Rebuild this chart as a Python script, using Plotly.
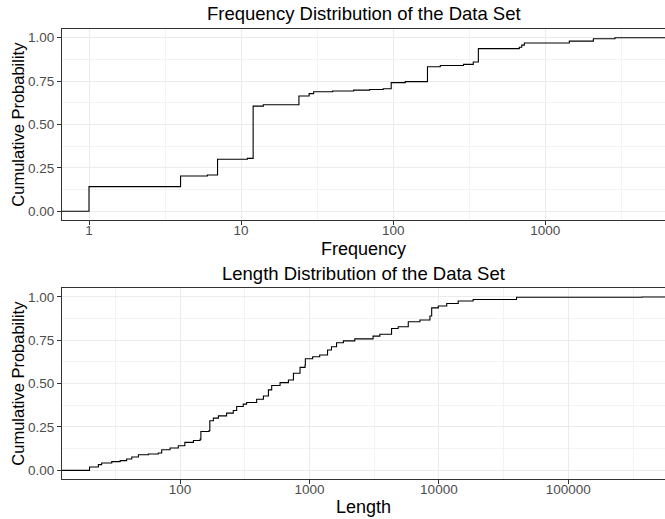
import plotly.graph_objects as go

# ---------------- data ----------------
freq_values = [1, 4, 6, 7, 11, 12, 14, 24, 28, 30, 40, 55, 70, 86, 97, 120, 168, 204,
               290, 336, 363, 675, 700, 728, 1439, 2070, 2870]
freq_cumprob = [0.142, 0.203, 0.209, 0.300, 0.305, 0.606, 0.614, 0.664, 0.678, 0.689,
                0.693, 0.698, 0.702, 0.706, 0.741, 0.747, 0.833, 0.840, 0.846, 0.860,
                0.937, 0.945, 0.957, 0.969, 0.980, 0.994, 1.000]

len_values = [20, 23.4, 24.8, 29.7, 34.5, 38.7, 42.4, 47.7, 56.9, 68, 72.2, 83.8, 97,
              109, 127, 143, 145, 168, 170, 181, 198, 229, 258, 274, 308, 327, 391,
              441, 482, 511, 593, 688, 752, 846, 925, 930, 1059, 1200, 1380, 1480,
              1620, 1830, 2240, 3100, 3500, 4310, 4850, 5800, 7140, 8530, 8800, 9900,
              11500, 14100, 18400, 39800, 370000]
len_cumprob = [0.019, 0.033, 0.042, 0.050, 0.056, 0.065, 0.077, 0.090, 0.094, 0.100,
               0.119, 0.129, 0.142, 0.161, 0.172, 0.180, 0.224, 0.230, 0.286, 0.301,
               0.314, 0.330, 0.345, 0.368, 0.382, 0.391, 0.410, 0.429, 0.464, 0.489,
               0.506, 0.521, 0.560, 0.594, 0.607, 0.644, 0.655, 0.665, 0.694, 0.713,
               0.736, 0.747, 0.758, 0.774, 0.785, 0.818, 0.828, 0.857, 0.867, 0.890,
               0.937, 0.948, 0.962, 0.977, 0.985, 0.998, 1.000]

freq_ticks = [1, 10, 100, 1000]
freq_ticktext = ["1", "10", "100", "1000"]
len_ticks = [100, 1000, 10000, 100000]
len_ticktext = ["100", "1000", "10000", "100000"]
y_ticks = [0, 0.25, 0.5, 0.75, 1.0]
y_minor = [0.125, 0.375, 0.625, 0.875]
freq_minor = [10 ** 0.5, 10 ** 1.5, 10 ** 2.5, 10 ** 3.5]
len_minor = [10 ** 1.5, 10 ** 2.5, 10 ** 3.5, 10 ** 4.5, 10 ** 5.5]

title_top = "Frequency Distribution of the Data Set"
title_bottom = "Length Distribution of the Data Set"
xlabel_top = "Frequency"
xlabel_bottom = "Length"
ylabel = "Cumulative Probability"

FREQ_XRANGE = [-0.1775, 3.787]
LEN_XRANGE = [1.0883, 5.747]
Y_RANGE = [-0.05, 1.05]

FONT = "Liberation Sans, Arial, sans-serif"
GRID_MAJOR = "#EBEBEB"
GRID_MINOR = "#F3F3F3"
BORDER = "#333333"


def ecdf_xy(values, probs, xr):
    # stat_ecdf-style padding out to the panel edges
    xs = [10 ** xr[0]] + list(values) + [10 ** xr[1]]
    ys = [0.0] + list(probs) + [probs[-1]]
    return xs, ys


fx, fy = ecdf_xy(freq_values, freq_cumprob, FREQ_XRANGE)
lx, ly = ecdf_xy(len_values, len_cumprob, LEN_XRANGE)

fig = go.Figure()
fig.add_trace(go.Scatter(x=fx, y=fy, mode="lines", line=dict(shape="hv", color="black", width=1.1),
                         xaxis="x", yaxis="y", hoverinfo="skip"))
fig.add_trace(go.Scatter(x=lx, y=ly, mode="lines", line=dict(shape="hv", color="black", width=1.1),
                         xaxis="x2", yaxis="y2", hoverinfo="skip"))

tickfont = dict(family=FONT, size=13.5, color="#4D4D4D")


def xaxis_cfg(rng, tv, tt, minor, anchor):
    return dict(type="log", range=rng, domain=[0, 1], anchor=anchor,
                tickvals=tv, ticktext=tt, tickfont=tickfont,
                showgrid=True, gridcolor=GRID_MAJOR, gridwidth=1,
                showline=True, linecolor=BORDER, linewidth=1, mirror=True,
                ticks="outside", ticklen=4, tickcolor=BORDER, tickwidth=1,
                ticklabelstandoff=-6,
                minor=dict(tickvals=minor, showgrid=True, gridcolor=GRID_MINOR, gridwidth=1),
                zeroline=False, fixedrange=True, automargin=False)


def yaxis_cfg(domain, anchor):
    return dict(range=Y_RANGE, domain=domain, anchor=anchor,
                tickvals=y_ticks, tickformat=".2f", tickfont=tickfont,
                showgrid=True, gridcolor=GRID_MAJOR, gridwidth=1,
                showline=True, linecolor=BORDER, linewidth=1,
                ticks="outside", ticklen=4, tickcolor=BORDER, tickwidth=1,
                minor=dict(tickvals=y_minor, showgrid=True, gridcolor=GRID_MINOR, gridwidth=1),
                zeroline=False, fixedrange=True, automargin=False)


H_PLOT = 519 - 29 - 40


def py(pix):
    return (519 - 40 - pix) / H_PLOT


fig.update_layout(
    width=665, height=519,
    margin=dict(l=62, r=0, t=29, b=40, autoexpand=False),
    plot_bgcolor="white", paper_bgcolor="white",
    showlegend=False,
    xaxis=xaxis_cfg(FREQ_XRANGE, freq_ticks, freq_ticktext, freq_minor, "y"),
    yaxis=yaxis_cfg([py(220), 1.0], "x"),
    xaxis2=xaxis_cfg(LEN_XRANGE, len_ticks, len_ticktext, len_minor, "y2"),
    yaxis2=yaxis_cfg([0.0, py(288.3)], "x2"),
    font=dict(family=FONT, color="black"),
)

ann = []
ann.append(dict(text=title_top, xref="paper", yref="paper", x=0.5, y=py(14), xanchor="center",
                yanchor="middle", showarrow=False, font=dict(family=FONT, size=18.5, color="black")))
ann.append(dict(text=title_bottom, xref="paper", yref="paper", x=0.5, y=py(273.7), xanchor="center",
                yanchor="middle", showarrow=False, font=dict(family=FONT, size=18.5, color="black")))
ann.append(dict(text=xlabel_top, xref="paper", yref="paper", x=0.5, y=py(249), xanchor="center",
                yanchor="middle", showarrow=False, font=dict(family=FONT, size=18, color="black")))
ann.append(dict(text=xlabel_bottom, xref="paper", yref="paper", x=0.5, y=py(506.5), xanchor="center",
                yanchor="middle", showarrow=False, font=dict(family=FONT, size=18, color="black")))
for ymid in (124.7, 383.7):
    ann.append(dict(text=ylabel, xref="paper", yref="paper", x=(18 - 62) / 603, y=py(ymid),
                    xanchor="center", yanchor="middle", textangle=-90, showarrow=False,
                    font=dict(family=FONT, size=16.5, color="black")))
fig.update_layout(annotations=ann)

fig.write_html("out.html", config={"displayModeBar": False},
               post_script="document.body.style.margin='0';document.body.style.padding='0';")
